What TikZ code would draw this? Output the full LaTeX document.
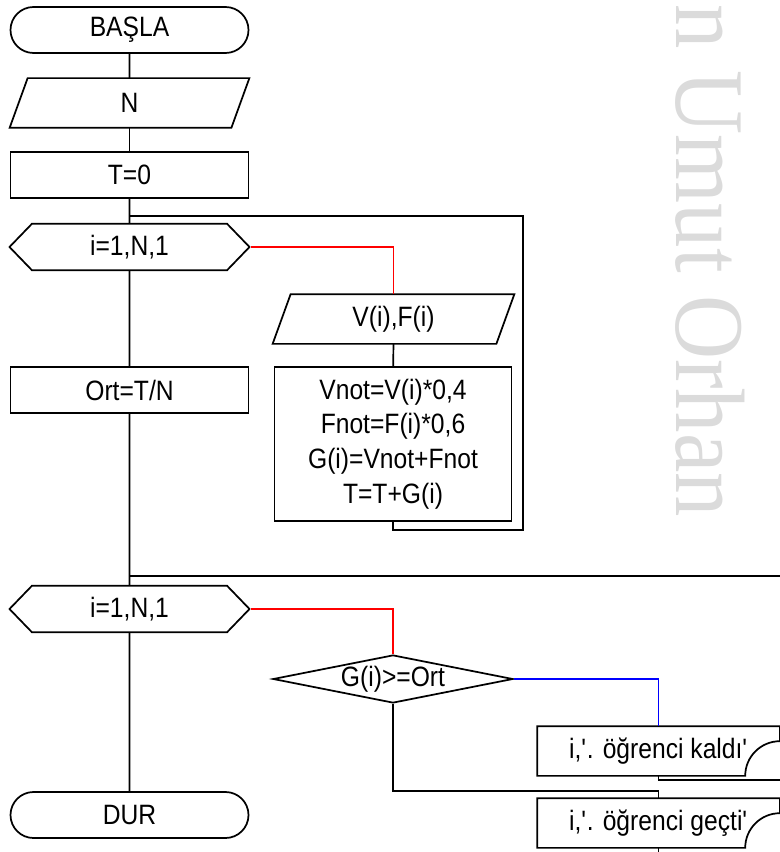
\documentclass[tikz,border=0pt]{standalone}
\usepackage{fontspec}
\setmainfont{Liberation Sans}[FakeStretch=0.88]
\newfontfamily\wmfont{Liberation Serif}[FakeStretch=0.9]
\usetikzlibrary{shapes.misc}
\usetikzlibrary{shapes.geometric}
\usetikzlibrary{shapes.symbols}
\definecolor[named]{LoopRed}{rgb}{1,0,0}
\definecolor[named]{YesBlue}{rgb}{0,0,1}
\colorlet{wmgray}{black!14}
\newcommand{\squote}{\textquotesingle}
\tikzset{
  every node/.style={font=\fontsize{21}{26}\selectfont, inner sep=0pt},
  terminal/.style={draw, rounded rectangle, minimum width=178.5pt, minimum height=34.5pt},
  io/.style={rectangle, minimum width=178.5pt, minimum height=36pt},
  proc/.style={draw, rectangle, minimum width=178.5pt, minimum height=35pt},
  loopbox/.style={draw, signal, signal to=west and east, signal pointer angle=92,
    minimum width=180pt, minimum height=35pt},
  decide/.style={draw, diamond, minimum width=180pt, minimum height=36pt},
  outbox/.style={rectangle, minimum width=180.75pt, minimum height=36pt},
}

\begin{document}
\begin{tikzpicture}[x=0.75pt,y=-0.75pt,line width=1.3pt]
    \useasboundingbox (0,0) rectangle (780,852);
    % Background
    \node[wmgray, rotate=-90, anchor=base east,
      font=\wmfont\fontsize{74}{74}\selectfont] (wm) at (676,518) {n Umut Orhan};
    % Boxes
    \node[terminal] (basla) at (129.5,30) {BAŞLA};
    \node[io] (n) at (129.5,103) {N};
    \node[proc] (t0) at (129.5,175) {T=0};
    \node[loopbox] (loop1) at (129.5,247) {i=1,N,1};
    \node[io, minimum width=180pt] (vf) at (393.5,319) {V(i),F(i)};
    \node[proc, minimum width=177.75pt, minimum height=115.5pt, align=center]
      (calc) at (393,444) {Vnot=V(i)*0,4\\Fnot=F(i)*0,6\\G(i)=Vnot+Fnot\\T=T+G(i)};
    \node[proc] (ort) at (129.5,390) {Ort=T/N};
    \node[loopbox] (loop2) at (129.5,609) {i=1,N,1};
    \node[decide, label=center:{G(i)>=Ort}] (cmp) at (393,679) {};
    \node[outbox] (kaldi) at (658.5,751) {i,\squote. öğrenci kaldı\squote};
    \node[outbox] (gecti) at (658.5,823) {i,\squote. öğrenci geçti\squote};
    \node[terminal] (dur) at (129.5,815) {DUR};
    \foreach \p in {n,vf}
      \draw ([xshift=13.5pt]\p.north west) -- (\p.north east)
        -- ([xshift=-13.5pt]\p.south east) -- (\p.south west) -- cycle;
    \foreach \o in {kaldi,gecti}
      \draw (\o.north west) -- (\o.north east) -- ([yshift=26pt]\o.south east)
        arc[start angle=90, end angle=180, radius=26pt] -- (\o.south west) -- cycle;
    % Wires
    \coordinate (j1) at (129.5,216);
    \coordinate (ret1) at (523,216);
    \coordinate (j2) at (129.5,576);
    \coordinate (ret2) at (800,576);
    \coordinate (exit1) at (800,780);
    \coordinate (exit2) at (658.5,870);
    \draw (basla) -- (n);
    \draw (n) -- (t0);
    \draw (t0) -- (loop1);
    \draw (loop1) -- (ort);
    \draw (ort) -- (loop2);
    \draw (loop2) -- (dur);
    \draw[LoopRed] (loop1.east) -| (vf.north);
    \draw (vf) -- (calc);
    \draw (calc.south) -- ++(0,8) -| (ret1) -- (j1);
    \draw (j2) -- (ret2);
    \draw[LoopRed] (loop2.east) -| (cmp.north);
    \draw[YesBlue] (cmp.east) -| (kaldi.north);
    \draw (kaldi.south) |- (exit1);
    \draw (cmp.south) |- ([yshift=5.25pt]gecti.north) -- (gecti.north);
    \draw (gecti.south) -- (exit2);
\end{tikzpicture}
\end{document}
